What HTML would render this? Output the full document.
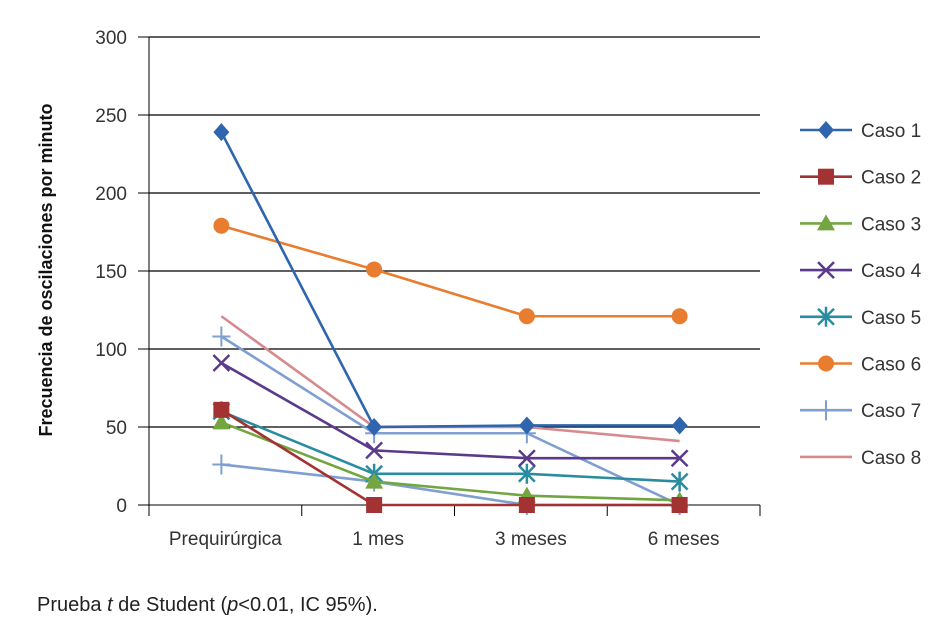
<!DOCTYPE html>
<html><head><meta charset="utf-8"><style>
html,body{margin:0;padding:0;background:#fff;width:936px;height:623px;overflow:hidden}
svg{display:block}
text{font-family:"Liberation Sans Narrow","Liberation Sans",sans-serif}
</style></head><body>
<svg id="chart" width="936" height="623" xmlns="http://www.w3.org/2000/svg">
<g id="grid"></g>
<g id="axes"></g>
<g id="series"></g>
<g id="legend"></g>
<text x="52" y="270" transform="rotate(-90 52 270)" text-anchor="middle" font-size="18" font-weight="bold" fill="#111">Frecuencia de oscilaciones por minuto</text>
<text x="37" y="611" font-size="20" fill="#222" style="font-family:'Liberation Sans',sans-serif">Prueba <tspan font-style="italic">t</tspan> de Student (<tspan font-style="italic">p</tspan>&lt;0.01, IC 95%).</text>
</svg>
<script>
const categories = ["Prequirúrgica","1 mes","3 meses","6 meses"];
const yTicks = [0,50,100,150,200,250,300];
const caso1 = [239,50,51,51];
const caso2 = [61,0,0,0];
const caso3 = [53,15,6,3];
const caso4 = [91,35,30,30];
const caso5 = [60,20,20,15];
const caso6 = [179,151,121,121];
const caso7 = [108,46,46,0];
const caso8 = [121,50,50,41];
const caso7b = [26,15,0,0];
const seriesNames = ["Caso 1","Caso 2","Caso 3","Caso 4","Caso 5","Caso 6","Caso 7","Caso 8"];

const NS="http://www.w3.org/2000/svg";
const L=149,R=760,T=37,B=505;
function y(v){return B-(v/300)*(B-T);}
const step=(R-L)/categories.length;
function x(i){return L+step*(i+0.5)-4;}
function mk(tag,attrs,parent){const e=document.createElementNS(NS,tag);for(const k in attrs)e.setAttribute(k,attrs[k]);parent.appendChild(e);return e;}
const grid=document.getElementById('grid'),axes=document.getElementById('axes'),sg=document.getElementById('series'),lg=document.getElementById('legend');

yTicks.forEach(t=>{
  if(t>0){const g=mk('line',{x1:L,x2:R,y1:y(t),y2:y(t),stroke:'#000','stroke-width':1.2},grid);
  
  }
  const tk=mk('line',{x1:L-11,x2:L,y1:y(t),y2:y(t),stroke:'#000'},axes);
  
  
  const tx=mk('text',{x:127,y:y(t)+7,'text-anchor':'end','font-size':19,fill:'#333'},axes);tx.textContent=t;
  
  
});
const ya=mk('line',{x1:L,x2:L,y1:T,y2:B+9,stroke:'#000'},axes);


const xa=mk('line',{x1:L,x2:R,y1:B,y2:B,stroke:'#000'},axes);


for(let i=0;i<=categories.length;i++){const tk=mk('line',{x1:L+step*i,x2:L+step*i,y1:B,y2:B+11,stroke:'#000'},axes);

}
categories.forEach((c,i)=>{const t=mk('text',{x:L+step*(i+0.5),y:545,'text-anchor':'middle','font-size':19,fill:'#333'},axes);t.textContent=c;

});

function marker(type,cx,cy,col,p){
  let e;
  if(type==='diamond')e=mk('polygon',{points:`${cx},${cy-9} ${cx+8},${cy} ${cx},${cy+9} ${cx-8},${cy}`,fill:col},p);
  else if(type==='square')e=mk('rect',{x:cx-8,y:cy-8,width:16,height:16,fill:col},p);
  else if(type==='triangle')e=mk('polygon',{points:`${cx},${cy-9} ${cx+9},${cy+7} ${cx-9},${cy+7}`,fill:col},p);
  else if(type==='x')e=mk('path',{d:`M${cx-8} ${cy-8}L${cx+8} ${cy+8}M${cx-8} ${cy+8}L${cx+8} ${cy-8}`,stroke:col,'stroke-width':2.5,fill:'none'},p);
  else if(type==='star')e=mk('path',{d:`M${cx-8} ${cy-8}L${cx+8} ${cy+8}M${cx-8} ${cy+8}L${cx+8} ${cy-8}M${cx} ${cy-10}L${cx} ${cy+10}`,stroke:col,'stroke-width':2.5,fill:'none'},p);
  else if(type==='circle')e=mk('circle',{cx:cx,cy:cy,r:8,fill:col},p);
  else if(type==='plus')e=mk('path',{d:`M${cx-9} ${cy}L${cx+9} ${cy}M${cx} ${cy-10}L${cx} ${cy+10}`,stroke:col,'stroke-width':2,fill:'none'},p);
  if(e){
  }
}
const defs=[
 {d:caso7b,c:'#7f9fd0',m:'plus',n:'caso-7b'},
 {d:caso8,c:'#d68a8e',m:'none',n:'caso-8'},
 {d:caso7,c:'#7f9fd0',m:'plus',n:'caso-7'},
 {d:caso6,c:'#e97d2f',m:'circle',n:'caso-6'},
 {d:caso5,c:'#2b8ca0',m:'star',n:'caso-5'},
 {d:caso4,c:'#5b3a8c',m:'x',n:'caso-4'},
 {d:caso3,c:'#73a541',m:'triangle',n:'caso-3'},
 {d:caso2,c:'#a33232',m:'square',n:'caso-2'},
 {d:caso1,c:'#2e65ae',m:'diamond',n:'caso-1'}
];
defs.forEach(s=>{
  const g=mk('g',{},sg);
  
  
  const pl=mk('polyline',{points:s.d.map((v,i)=>x(i)+','+y(v)).join(' '),fill:'none',stroke:s.c,'stroke-width':2.6},g);
  
  
  s.d.forEach((v,i)=>marker(s.m,x(i),y(v),s.c,g));
});
const legOrder=['caso-1','caso-2','caso-3','caso-4','caso-5','caso-6','caso-7','caso-8'];
legOrder.forEach((n,i)=>{
  const s=defs.find(d=>d.n===n);const ly=130+i*46.7;
  const g=mk('g',{},lg);
  
  
  mk('line',{x1:800,x2:852,y1:ly,y2:ly,stroke:s.c,'stroke-width':2.6},g);
  marker(s.m,826,ly,s.c,g);
  const t=mk('text',{x:861,y:ly+7,'font-size':19,fill:'#333'},g);t.textContent=seriesNames[i];
  
  
});
</script>
</body></html>
